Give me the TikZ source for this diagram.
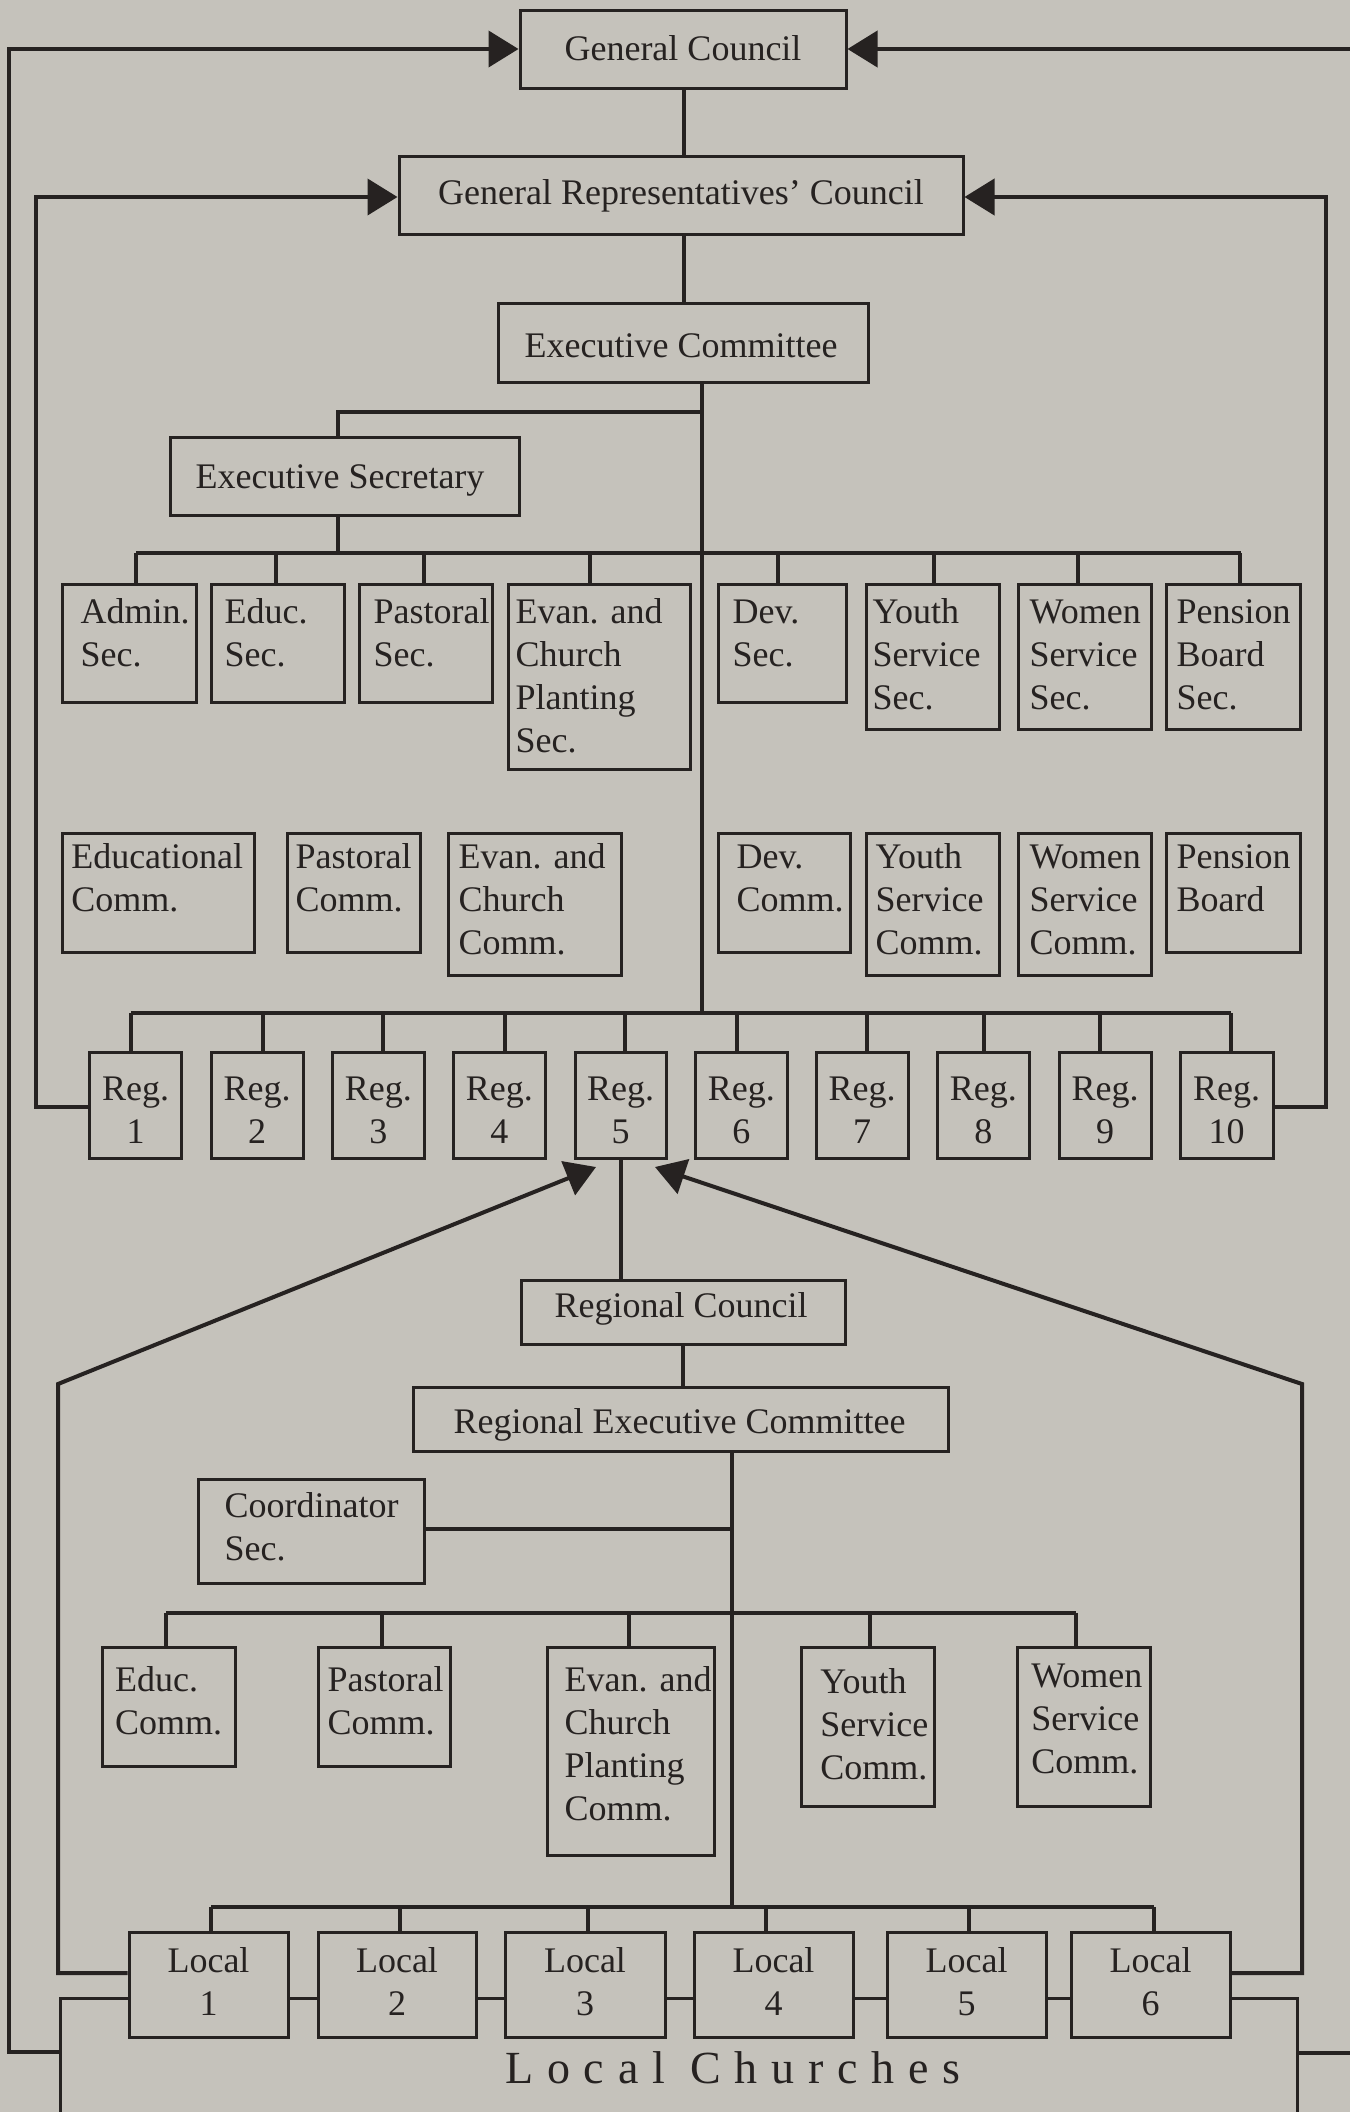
\documentclass[tikz,border=0pt]{standalone}
\usepackage{fontspec}
\setmainfont{Liberation Serif}
\newfontfamily\lcfont[LetterSpace=30]{Liberation Serif}
\usetikzlibrary{arrows.meta,fit}
\definecolor{bg}{RGB}{197,194,187}
\definecolor{ink}{RGB}{38,34,33}
\newcommand\fs{\fontsize{10.8}{12.9}\selectfont}
\newcommand\bx[5]{\node[box, fit={(#2,#3) (#4,#5)}] (#1) {};}
\newcommand\tl[4]{\node[txt, anchor=north west] (#1) at ({#2},{#3-30.1}) {\strut #4};}
\newcommand\tc[4]{\node[txt, align=center, anchor=north] (#1) at ({#2},{#3-30.1}) {\strut #4};}
\begin{document}
\begin{tikzpicture}[x=0.3pt,y=-0.3pt,
  conn/.style={draw=ink, line width=1.2pt},
  arr/.style={conn, -{Triangle[length=9pt,width=10.8pt]}},
  box/.style={draw=ink, line width=0.9pt, inner sep=0pt, fill=bg},
  txt/.style={inner sep=0pt, font=\fs, align=left, text=ink}]
\useasboundingbox (0,0) rectangle (1350,2112);
\fill[bg] (0,0) rectangle (1350,2112);
% Local Churches frame (open at the bottom edge)
\node[inner sep=0pt, fit={(61,1999) (1297,2112)}] (lc) {};
\draw[draw=ink, line width=0.9pt] (lc.south west) -- (lc.north west) -- (lc.north east) -- (lc.south east);
\node[inner sep=0pt, anchor=base, text=ink, font={\lcfont\fontsize{13.8}{16}\selectfont}] (lc-t) at (733,2083) {Local Churches};
% top level
\bx{gc}{520}{10}{846}{88}
\tc{gc-t}{683}{60}{General Council}
\bx{grc}{399}{156}{963}{234}
\tc{grc-t}{681}{204}{General Representatives' Council}
\bx{ec}{498}{303}{868}{382}
\tc{ec-t}{681}{357}{Executive Committee}
\bx{es}{170}{437}{519}{515}
\tc{es-t}{340}{488}{Executive Secretary}
% secretaries
\bx{admin}{62}{584}{196}{702}
\tl{admin-t}{80}{623}{Admin.\\Sec.}
\bx{educ}{211}{584}{344}{702}
\tl{educ-t}{224}{623}{Educ.\\Sec.}
\bx{past}{359}{584}{492.5}{702}
\tl{past-t}{373}{623}{Pastoral\\Sec.}
\bx{evan}{508}{584}{690}{769}
\tl{evan-t}{515}{623}{Evan. and\\Church\\Planting\\Sec.}
\bx{dev}{718}{584}{846}{702}
\tl{dev-t}{732}{623}{Dev.\\Sec.}
\bx{youth}{866}{584}{999}{729}
\tl{youth-t}{872}{623}{Youth\\Service\\Sec.}
\bx{women}{1018.5}{584}{1151}{729}
\tl{women-t}{1029}{623}{Women\\Service\\Sec.}
\bx{pension}{1166.6}{584}{1300}{729}
\tl{pension-t}{1176}{623}{Pension\\Board\\Sec.}
% committees
\bx{educom}{62}{833}{254}{952}
\tl{educom-t}{70.6}{868}{Educational\\Comm.}
\bx{pastcom}{287}{833}{420}{952}
\tl{pastcom-t}{295}{868}{Pastoral\\Comm.}
\bx{evancom}{448.6}{833}{621.6}{975}
\tl{evancom-t}{458}{868}{Evan. and\\Church\\Comm.}
\bx{devcom}{718}{833}{850.6}{952}
\tl{devcom-t}{736}{868}{Dev.\\Comm.}
\bx{youthcom}{866}{833}{999}{975}
\tl{youthcom-t}{875}{868}{Youth\\Service\\Comm.}
\bx{womencom}{1018.5}{833}{1151}{975}
\tl{womencom-t}{1029}{868}{Women\\Service\\Comm.}
\bx{penboard}{1166.6}{833}{1300}{952}
\tl{penboard-t}{1176}{868}{Pension\\Board}
% regions
\foreach \i/\a/\b/\d in {1/89.5/181.7/131, 2/211/303/262.6, 3/332/424.5/383, 4/453.7/545/504.5, 5/575/666/625, 6/695.6/787/737, 7/816/908/867, 8/937.6/1029/984, 9/1059/1151/1100, 10/1180/1273/1231}{
  \bx{reg\i}{\a}{1052}{\b}{1158}
  \tc{reg\i-t}{(\a+\b)/2}{1100}{Reg.\\\i}
  \draw[conn] (\d,1013) -- (reg\i.north -| \d,1013);
}
% regional level
\bx{rc}{521}{1280}{845.5}{1344}
\tc{rc-t}{681}{1317}{Regional Council}
\bx{rec}{413}{1387}{948}{1451}
\tc{rec-t}{679.5}{1433}{Regional Executive Committee}
\bx{coord}{198}{1479}{424}{1583}
\tl{coord-t}{224}{1517}{Coordinator\\Sec.}
\bx{reduc}{102.5}{1647.5}{235}{1766}
\tl{reduc-t}{114.5}{1691}{Educ.\\Comm.}
\bx{rpast}{318.6}{1647.5}{450}{1766.6}
\tl{rpast-t}{327}{1691}{Pastoral\\Comm.}
\bx{revan}{547.6}{1647.5}{714.6}{1855.6}
\tl{revan-t}{564}{1691}{Evan. and\\Church\\Planting\\Comm.}
\bx{ryouth}{801.6}{1647.5}{934}{1806}
\tl{ryouth-t}{819.6}{1693}{Youth\\Service\\Comm.}
\bx{rwomen}{1017.6}{1647.5}{1150}{1806}
\tl{rwomen-t}{1030.6}{1687}{Women\\Service\\Comm.}
% locals
\foreach \i/\a/\b/\d in {1/129/288/211, 2/318/476/399.5, 3/505/665/588, 4/694/853/766, 5/887/1046/968.6, 6/1071/1230/1153.7}{
  \bx{local\i}{\a}{1932.5}{\b}{2037}
  \tc{local\i-t}{(\a+\b)/2}{1972}{Local\\\i}
  \draw[conn] (\d,1907) -- (local\i.north -| \d,1907);
}
% junction coordinates
\coordinate (t1) at (683.5,0);
\coordinate (t2) at (702,0);
\coordinate (jes) at (337.5,411.5);
\coordinate (rtop) at (1350,49);
\coordinate (rbot) at (1350,2053);
\coordinate (ltip) at (596,1167);
\coordinate (rtip) at (655,1167);
% connectors, upper part
\draw[conn] (t1 |- gc.south) -- (t1 |- grc.north);
\draw[conn] (t1 |- grc.south) -- (t1 |- ec.north);
\draw[conn] (t2 |- ec.south) -- (702,1013);
\draw[conn] (jes -| t2) -- (jes) -- (jes |- es.north);
\draw[conn] (jes |- es.south) -- (337.5,553);
\draw[conn] (136,553) -- (1241,553);
\foreach \n/\x in {admin/136, educ/275.5, past/423.6, evan/590, dev/777.5, youth/934, women/1078, pension/1240}{
  \draw[conn] (\x,553) -- (\n.north -| \x,553);
}
\draw[conn] (131,1013) -- (1231,1013);
% feedback loops to councils
\draw[arr] (reg1.west |- 0,1107) -- (36,1107) -- (36,197) -- (grc.west |- 0,197);
\draw[arr] (reg10.east |- 0,1107) -- (1326,1107) -- (1326,197) -- (grc.east |- 0,197);
\draw[arr] (lc.west |- 0,2052) -- (9,2052) -- (9,49) -- (gc.west |- 0,49);
\draw[arr] (rtop) -- (gc.east |- rtop);
\draw[conn] (lc.east |- rbot) -- (rbot);
% regional connectors
\draw[conn] (reg5.south) -- (reg5.south |- rc.north);
\draw[conn] (rc.south) -- (rc.south |- rec.north);
\draw[conn] (rec.south -| 732,0) -- (732,1907);
\draw[conn] (coord.east |- 0,1528.5) -- (732,1528.5);
\draw[conn] (166,1613) -- (1076,1613);
\foreach \n/\x in {reduc/166, rpast/382, revan/628.5, ryouth/870, rwomen/1076}{
  \draw[conn] (\x,1613) -- (\n.north -| \x,1613);
}
\draw[conn] (211,1907) -- (1154,1907);
\draw[arr] (local1.west |- 0,1973) -- (58,1973) -- (58,1384) -- (ltip);
\draw[arr] (local6.east |- 0,1973) -- (1302,1973) -- (1302,1384) -- (rtip);
\end{tikzpicture}
\end{document}
